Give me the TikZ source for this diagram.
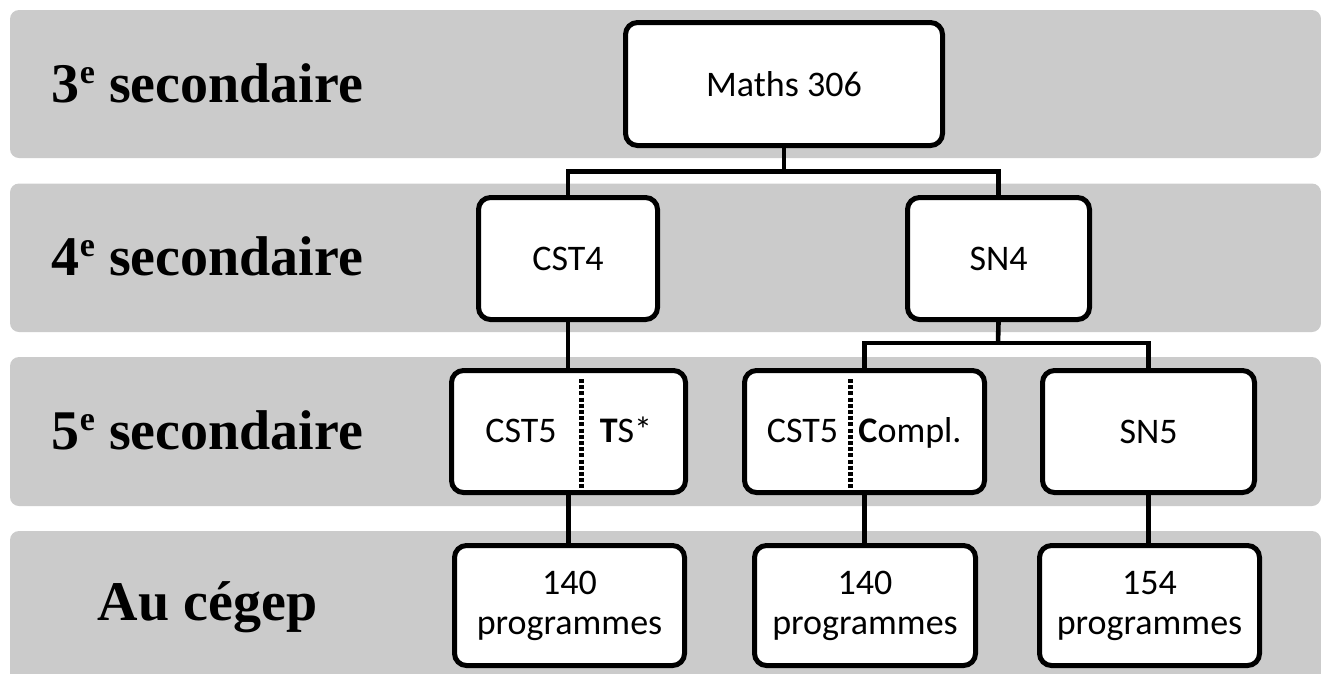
\documentclass[tikz,border=0pt]{standalone}
\usepackage{fontspec}
\setmainfont{Carlito}
\newfontfamily\labelfont{Liberation Serif}
\usetikzlibrary{calc}
\definecolor{bandgray}{RGB}{203,203,203}
\newcommand{\supe}{\raisebox{19pt}{\fontsize{34}{36}\selectfont e}}
\begin{document}
\begin{tikzpicture}[x=1pt,y=-1pt,
  band/.style={fill=bandgray,draw=none,rounded corners=9pt},
  lvl/.style={anchor=base,inner sep=0pt,font=\labelfont\bfseries\fontsize{56}{60}\selectfont},
  boxnode/.style={draw=black,fill=white,line width=5pt,rounded corners=12pt,
    inner sep=0pt,align=center,font=\fontsize{36}{40}\selectfont},
  boxtext/.style={anchor=base,inner sep=0pt,font=\fontsize{36}{40}\selectfont},
  conn/.style={draw=black,line width=4.6pt},
  divider/.style={draw=black,line width=5pt,dash pattern=on 4pt off 2.2pt}]
\useasboundingbox (0,0) rectangle (1321,673);
\clip (0,0) rectangle (1321,673);
% bands
\fill[band] (10,10) rectangle (1321,158);
\fill[band] (10,183.5) rectangle (1321,332);
\fill[band] (10,357) rectangle (1321,506);
\fill[band] (10,531) rectangle (1321,690);
% level labels
\node[lvl] (l3) at (207.5,102) {3\supe{} secondaire};
\node[lvl] (l4) at (207.5,275) {4\supe{} secondaire};
\node[lvl] (l5) at (207.5,449) {5\supe{} secondaire};
\node[lvl] (lc) at (207.5,620) {Au cégep};
% junctions
\coordinate (j1) at (784,171.5);
\coordinate (j2) at (998,343);
% boxes
\node[boxnode,minimum width=317pt,minimum height=123pt] (m) at (784,84) {Maths 306};
\node[boxnode,minimum width=179pt,minimum height=122pt] (cst4) at (568,258.5) {CST4};
\node[boxnode,minimum width=182pt,minimum height=122pt] (sn4) at (998.5,258.5) {SN4};
\node[boxnode,minimum width=234pt,minimum height=122pt] (ts) at (568.5,431.5) {};
\node[boxnode,minimum width=240pt,minimum height=122pt] (cmp) at (864.5,431.5) {};
\node[boxnode,minimum width=212pt,minimum height=122pt] (sn5) at (1148.5,431.5) {SN5};
\node[boxnode,minimum width=230pt,minimum height=120pt] (p1) at (569.5,605.5) {140\\programmes};
\node[boxnode,minimum width=221pt,minimum height=120pt] (p2) at (865,605.5) {140\\programmes};
\node[boxnode,minimum width=220pt,minimum height=120pt] (p3) at (1149.5,605.5) {154\\programmes};
% connectors
\draw[conn] (m.south) -- (j1);
\draw[conn] (cst4.north) |- (j1) -| (sn4.north);
\draw[conn] (cst4.south) -- (cst4.south |- ts.north);
\draw[conn] (sn4.south) -- (j2);
\draw[conn] (cmp.north) |- (j2) -| (sn5.north);
\draw[conn] (ts.south) -- (ts.south |- p1.north);
\draw[conn] (cmp.south) -- (cmp.south |- p2.north);
\draw[conn] (sn5.south) -- (sn5.south |- p3.north);
% split box contents
\node[boxtext] (t1) at (521,442) {CST5};
\node[boxtext] (t2) at (626,442) {\textbf{T}S*};
\node[boxtext] (t3) at (802.5,442) {CST5};
\node[boxtext] (t4) at (910,442) {\textbf{C}ompl.};
\draw[divider] (581,379) -- (581,491);
\draw[divider] (850,379) -- (850,491);
\end{tikzpicture}
\end{document}
